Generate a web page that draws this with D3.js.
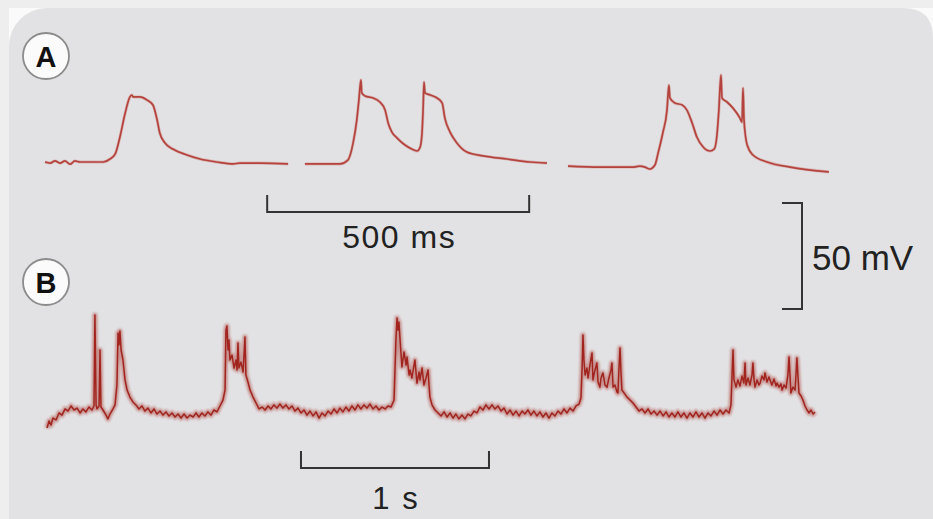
<!DOCTYPE html>
<html><head><meta charset="utf-8">
<script src="https://cdn.jsdelivr.net/npm/d3@7"></script>
<style>html,body{margin:0;padding:0;background:#eeeeee;}svg{display:block;}</style>
</head><body>
<script>
// ---------- DATA (time in ms, membrane potential in mV) ----------
const traceA1 = [[0,-65],[10,-65.5],[19,-64.5],[29,-65.5],[38,-64.5],[48,-66],[57,-64.5],[67,-65],[111,-65],[124,-63.6],[134,-61.2],[143,-53.2],[153,-41.9],[162,-34.3],[166,-33.4],[168,-34.3],[181,-34.3],[195,-35.8],[206,-38.1],[214,-45.2],[219,-51.3],[229,-56],[244,-58.9],[271,-61.7],[296,-63.6],[328,-65],[359,-65.9],[372,-65.5],[410,-65.5],[464,-65.9]];
const traceA2 = [[496,-65.9],[563,-65.9],[578,-64.1],[588,-56],[595,-45.2],[599,-35.8],[603,-26.3],[604.5,-32.4],[611,-33.9],[626,-34.8],[639,-36.7],[649,-40.5],[655,-46.7],[662,-50.9],[672,-53.7],[687,-57],[700,-58.9],[710,-59.8],[716,-57.9],[719.5,-51.3],[721.5,-40.5],[723.3,-27.3],[725.2,-32.4],[735,-33.4],[748,-34.8],[758,-37.2],[763,-44.2],[773,-50.9],[786,-56],[805,-60.3],[836,-62.1],[882,-63.6],[926,-65],[958,-65.5]];
const traceA3 = [[998,-66.9],[1059,-67.4],[1122,-67.4],[1135,-66.9],[1145,-67.4],[1154,-68.3],[1164,-66.4],[1170,-60.8],[1179,-51.3],[1187,-40.5],[1190.7,-28.7],[1192.6,-34.8],[1202,-37.2],[1216,-38.1],[1225,-40.5],[1235,-46.6],[1244,-53.2],[1256,-57.9],[1269,-59.8],[1277,-58.9],[1282,-53.2],[1286,-40.5],[1290,-24],[1292,-34.8],[1301.5,-36.7],[1313,-39.6],[1326,-44.2],[1330.2,-46.2],[1332.1,-30.1],[1334,-45.2],[1340,-57],[1351,-61.7],[1378,-65],[1422,-67.4],[1496,-69.7]];

const traceB = [[0,-73.5],[11,-70.2],[21,-72.1],[32,-68.8],[48,-69.7],[64,-66.4],[80,-67.4],[96,-64.5],[112,-65.5],[128,-63.1],[144,-65.0],[160,-64.1],[176,-66.4],[191,-64.5],[207,-65.9],[223,-63.6],[239,-65.0],
[250,-63.1],[255,-20.2],[261,-62.6],[266,-64.5],
[277,-63.1],[282,-36.7],[287,-63.6],[298,-65.0],[314,-67.4],[324,-69.2],[335,-66.9],[351,-64.5],[362,-62.6],[372,-53.2],
[378,-28.7],[383,-34.3],[388,-27.7],[394,-36.7],[404,-41.4],[415,-50.8],[426,-55.6],[441,-58.9],[457,-61.2],[473,-62.6],[489,-64.5],[505,-63.1],[521,-65.5],[537,-64.1],[553,-66.4],[569,-64.5],[585,-66.9],[601,-65.5],[617,-67.4],[633,-65.9],[649,-67.8],[665,-66.4],[681,-68.3],[697,-66.9],[713,-68.8],[729,-66.9],[745,-68.8],[761,-67.4],[777,-68.3],[793,-66.4],[808,-68.3],[824,-66.4],[840,-67.8],[856,-65.9],[872,-67.4],[888,-65.0],[904,-65.9],[920,-63.1],[936,-60.3],[947,-55.6],
[952,-27.3],[957,-25.4],[963,-36.7],[968,-32.0],[973,-41.4],[984,-39.1],[995,-45.2],[1005,-41.4],[1011,-46.1],[1016,-33.4],[1021,-45.2],[1032,-42.4],[1043,-47.1],[1053,-30.6],[1058,-48.5],[1069,-51.8],[1080,-55.6],[1096,-58.9],[1112,-61.7],[1128,-64.5],[1144,-63.6],[1160,-65.0],[1176,-63.1],[1191,-64.5],[1207,-62.6],[1223,-64.1],[1239,-62.2],[1255,-64.1],[1271,-62.6],[1287,-64.5],[1303,-63.1],[1319,-65.5],[1335,-64.1],[1351,-66.4],[1367,-65.0],[1383,-67.4],[1399,-65.5],[1415,-67.8],[1431,-65.9],[1447,-68.8],[1463,-66.4],[1479,-67.8],[1495,-65.5],[1511,-66.9],[1527,-64.5],[1543,-66.4],[1558,-64.1],[1574,-65.9],[1590,-63.6],[1606,-65.5],[1622,-63.1],[1638,-65.0],[1654,-62.6],[1670,-64.5],[1686,-62.6],[1702,-64.1],[1718,-62.2],[1734,-64.5],[1750,-63.1],[1766,-65.0],[1782,-63.6],[1798,-64.5],[1814,-63.1],[1830,-63.6],[1846,-60.3],
[1856,-32.0],[1862,-21.6],[1867,-27.3],[1872,-23.5],[1878,-32.0],[1888,-44.7],[1899,-37.6],[1910,-43.8],[1915,-40.0],[1926,-48.5],[1931,-46.1],[1941,-49.9],[1957,-41.4],[1968,-52.3],[1979,-47.1],[1984,-50.8],[1995,-45.2],[2005,-53.2],[2016,-49.9],[2027,-46.1],[2032,-53.2],[2037,-58.9],[2048,-62.6],[2064,-65.0],[2080,-66.4],[2096,-67.8],[2112,-65.9],[2128,-68.3],[2144,-66.4],[2160,-68.8],[2175,-66.9],[2191,-69.2],[2207,-67.4],[2223,-69.2],[2239,-66.9],[2255,-67.8],[2271,-65.5],[2287,-66.4],[2303,-63.6],[2319,-65.0],[2335,-62.6],[2351,-64.5],[2367,-62.6],[2383,-64.5],[2399,-63.1],[2415,-65.5],[2431,-64.1],[2447,-66.9],[2463,-65.0],[2479,-67.4],[2495,-65.5],[2511,-67.8],[2527,-65.5],[2542,-66.9],[2558,-65.0],[2574,-67.4],[2590,-65.5],[2606,-67.8],[2622,-65.9],[2638,-68.3],[2654,-66.4],[2670,-68.8],[2686,-66.4],[2702,-67.8],[2718,-65.5],[2734,-66.9],[2750,-64.5],[2766,-66.4],[2782,-64.1],[2798,-65.5],[2814,-63.1],[2830,-62.2],[2840,-59.3],
[2846,-46.1],[2851,-29.6],[2856,-41.4],[2862,-48.5],[2872,-45.2],[2878,-49.9],[2888,-43.8],[2899,-38.1],[2904,-50.8],[2915,-46.1],[2925,-42.8],[2931,-51.8],[2941,-54.2],[2947,-49.9],[2957,-47.5],[2968,-53.2],[2979,-54.2],[2989,-49.9],[3000,-46.1],[3005,-42.8],[3011,-54.2],[3021,-53.2],[3032,-56.5],[3037,-57.0],[3042,-46.1],[3048,-35.8],[3053,-47.1],[3058,-55.6],[3074,-57.5],[3085,-58.9],[3101,-60.3],[3117,-61.7],[3133,-63.6],[3149,-65.5],[3165,-64.5],[3181,-66.4],[3197,-64.5],[3213,-66.9],[3229,-65.5],[3245,-67.4],[3261,-65.5],[3277,-67.8],[3293,-65.9],[3308,-68.3],[3324,-66.4],[3340,-68.3],[3356,-65.9],[3372,-68.3],[3388,-66.4],[3404,-68.8],[3420,-66.4],[3436,-68.3],[3452,-65.9],[3468,-68.3],[3484,-66.4],[3500,-68.8],[3516,-66.4],[3532,-67.8],[3548,-65.5],[3564,-67.4],[3580,-65.0],[3596,-66.9],[3612,-65.0],[3628,-66.4],[3638,-62.6],
[3644,-48.5],[3649,-36.7],[3654,-50.8],[3665,-54.2],[3675,-50.8],[3686,-53.7],[3697,-49.0],[3707,-52.3],[3713,-42.8],[3718,-53.2],[3729,-49.9],[3739,-53.2],[3750,-48.5],[3755,-42.8],[3761,-50.8],[3766,-54.2],[3777,-50.8],[3787,-53.2],[3793,-52.3],[3803,-49.0],[3814,-50.8],[3819,-47.5],[3830,-51.8],[3840,-49.4],[3846,-50.8],[3856,-53.2],[3867,-50.4],[3878,-53.7],[3883,-52.3],[3894,-54.2],[3904,-52.7],[3910,-55.6],[3920,-53.2],[3931,-54.6],[3941,-48.5],[3947,-40.0],[3952,-48.5],[3957,-57.0],[3968,-54.2],[3979,-55.6],[3984,-48.5],[3989,-40.5],[3995,-49.9],[4000,-57.0],[4011,-58.4],[4021,-60.3],[4032,-63.1],[4043,-65.0],[4053,-66.4],[4064,-65.0],[4075,-66.9],[4085,-65.9]];

const panelLabels = ["A", "B"];
const scaleBarTime = [500, 1000];      // ms: panel A bar, panel B bar
const scaleBarTimeText = ["500 ms", "1 s"];
const scaleBarVolt = 50;               // mV
const scaleBarVoltText = "50 mV";

// ---------- DRAWING ----------
const W = 933, H = 519;
const svg = d3.select("body").append("svg").attr("width", W).attr("height", H);

svg.append("rect").attr("width", W).attr("height", H).attr("fill", "#eeeeee");
svg.append("rect").attr("x", 9).attr("y", 8).attr("width", W).attr("height", H).attr("fill", "#fafafa");
svg.append("rect").attr("x", 9).attr("y", 8).attr("width", W + 40).attr("height", H + 40)
  .attr("rx", 38).attr("ry", 38).attr("fill", "#e2e2e4");
svg.append("path").attr("d", `M${W-30},8 Q${W},8 ${W},38 L${W},8 Z`).attr("fill", "#fafafa");

const mvPx = 2.12; // px per mV
const xA = d3.scaleLinear().domain([0, 1500]).range([45, 45 + 1500 * 0.524]);
const yA = d3.scaleLinear().domain([-65, -15]).range([162, 162 - 50 * mvPx]);
const xB = d3.scaleLinear().domain([0, 4085]).range([47, 47 + 4085 * 0.188]);
const yB = d3.scaleLinear().domain([-65, -15]).range([410, 410 - 50 * mvPx]);

const lineA = d3.line().x(d => xA(d[0])).y(d => yA(d[1])).curve(d3.curveMonotoneX);
const lineB = d3.line().x(d => xB(d[0])).y(d => yB(d[1]));

const defs = svg.append("defs");
defs.append("filter").attr("id", "soft").attr("x", "-5%").attr("y", "-20%").attr("width", "110%").attr("height", "140%")
  .append("feGaussianBlur").attr("stdDeviation", 0.8);

const gA = svg.append("g");
[traceA1, traceA2, traceA3].forEach(tr => {
  gA.append("path").attr("d", lineA(tr)).attr("fill", "none")
    .attr("stroke", "#cf8681").attr("stroke-width", 3).attr("stroke-opacity", 0.5)
    .attr("stroke-linejoin", "round");
  gA.append("path").attr("d", lineA(tr)).attr("fill", "none")
    .attr("stroke", "#b5433d").attr("stroke-width", 1.7).attr("stroke-linejoin", "round");
});

const gB = svg.append("g");
gB.append("path").attr("d", lineB(traceB)).attr("fill", "none")
  .attr("stroke", "#a8302a").attr("stroke-width", 5).attr("stroke-opacity", 0.45)
  .attr("stroke-linejoin", "round").attr("filter", "url(#soft)");
gB.append("path").attr("d", lineB(traceB)).attr("fill", "none")
  .attr("stroke", "#a1241e").attr("stroke-width", 1.5).attr("stroke-linejoin", "round");

// panel labels
const labelPos = [[46, 56], [46, 282]];
const font = "Liberation Sans, Arial, Helvetica, sans-serif";
panelLabels.forEach((L, i) => {
  const g = svg.append("g").attr("transform", `translate(${labelPos[i][0]},${labelPos[i][1]})`);
  g.append("circle").attr("r", 23).attr("fill", "#fbfbfb").attr("stroke", "#8c8c8c").attr("stroke-width", 1.8);
  g.append("text").attr("text-anchor", "middle").attr("y", 10.5)
    .attr("font-family", font).attr("font-weight", "bold").attr("font-size", 29).attr("fill", "#111").text(L);
});

const barColor = "#333";

// 500 ms bar (panel A)
const a0 = 424, a1 = a0 + scaleBarTime[0];
svg.append("path").attr("fill", "none").attr("stroke", barColor).attr("stroke-width", 2)
  .attr("d", `M${xA(a0)},195 V212 H${xA(a1)} V195`);
svg.append("text").attr("x", (xA(a0) + xA(a1)) / 2 + 1).attr("y", 248)
  .attr("text-anchor", "middle").attr("font-family", font).attr("font-size", 32)
  .attr("letter-spacing", 1.5).attr("fill", "#222").text(scaleBarTimeText[0]);

// 1 s bar (panel B)
const b0 = 1351, b1 = b0 + scaleBarTime[1];
svg.append("path").attr("fill", "none").attr("stroke", barColor).attr("stroke-width", 2)
  .attr("d", `M${xB(b0)},451 V468 H${xB(b1)} V451`);
svg.append("text").attr("x", (xB(b0) + xB(b1)) / 2 + 1).attr("y", 509)
  .attr("text-anchor", "middle").attr("font-family", font).attr("font-size", 31)
  .attr("letter-spacing", 2).attr("fill", "#222").text(scaleBarTimeText[1]);

// 50 mV bar
const vLen = yA(-65) - yA(-65 + scaleBarVolt);
const vTop = 203;
svg.append("path").attr("fill", "none").attr("stroke", barColor).attr("stroke-width", 2)
  .attr("d", `M782,${vTop} H802 V${vTop + vLen} H782`);
svg.append("text").attr("x", 812).attr("y", 270)
  .attr("font-family", font).attr("font-size", 35).attr("fill", "#222").text(scaleBarVoltText);
</script>
</body></html>
